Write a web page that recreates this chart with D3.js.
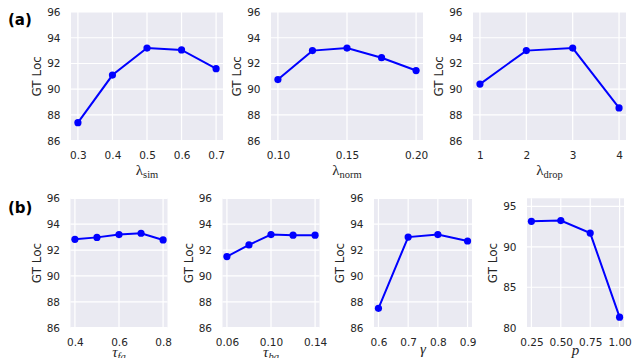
<!DOCTYPE html>
<html>
<head>
<meta charset="utf-8">
<script src="https://cdn.jsdelivr.net/npm/d3@7"></script>
<style>
  html, body { margin: 0; padding: 0; background: #ffffff; }
  svg { display: block; }
</style>
</head>
<body>
<svg id="chart" width="635" height="358"></svg>
<script>
// ---- data ----
const xSim = [0.3, 0.4, 0.5, 0.6, 0.7];
const locSim = [87.4, 91.1, 93.2, 93.05, 91.6];
const xNorm = [0.1, 0.125, 0.15, 0.175, 0.2];
const locNorm = [90.75, 93.0, 93.2, 92.45, 91.45];
const xDrop = [1, 2, 3, 4];
const locDrop = [90.4, 93.0, 93.2, 88.55];
const xFg = [0.4, 0.5, 0.6, 0.7, 0.8];
const locFg = [92.83, 92.98, 93.2, 93.3, 92.78];
const xBg = [0.06, 0.08, 0.10, 0.12, 0.14];
const locBg = [91.5, 92.4, 93.2, 93.15, 93.15];
const xGamma = [0.6, 0.7, 0.8, 0.9];
const locGamma = [87.5, 93.0, 93.2, 92.7];
const xP = [0.25, 0.5, 0.75, 1.0];
const locP = [93.15, 93.24, 91.7, 81.3];

// ---- tick labels ----
const ticksSim = ["0.3", "0.4", "0.5", "0.6", "0.7"];
const ticksNorm = ["0.10", "0.15", "0.20"];
const ticksDrop = ["1", "2", "3", "4"];
const ticksFg = ["0.4", "0.6", "0.8"];
const ticksBg = ["0.06", "0.10", "0.14"];
const ticksGamma = ["0.6", "0.7", "0.8", "0.9"];
const ticksP = ["0.25", "0.50", "0.75", "1.00"];
const yTicksLoc = ["86", "88", "90", "92", "94", "96"];
const yTicksP = ["80", "85", "90", "95"];
const yLabel = "GT Loc";

// ---- layout ----
const panels = [
  { x: xSim, y: locSim, xt: ticksSim, yt: yTicksLoc, ydom: [86, 96], box: [71, 12, 223, 140.7],
    label: { main: "λ", sub: "sim", italic: false, base: 175 }, ylx: 37 },
  { x: xNorm, y: locNorm, xt: ticksNorm, yt: yTicksLoc, ydom: [86, 96], box: [271, 12, 423, 140.7],
    label: { main: "λ", sub: "norm", italic: false, base: 175 }, ylx: 237 },
  { x: xDrop, y: locDrop, xt: ticksDrop, yt: yTicksLoc, ydom: [86, 96], box: [473, 12, 626, 140.7],
    label: { main: "λ", sub: "drop", italic: false, base: 175 }, ylx: 438.5 },
  { x: xFg, y: locFg, xt: ticksFg, yt: yTicksLoc, ydom: [86, 96], box: [70.5, 198.3, 167.5, 327.7],
    label: { main: "τ", sub: "fg", italic: true, base: 357 }, ylx: 37 },
  { x: xBg, y: locBg, xt: ticksBg, yt: yTicksLoc, ydom: [86, 96], box: [222.5, 198.3, 319.5, 327.7],
    label: { main: "τ", sub: "bg", italic: true, base: 357 }, ylx: 189 },
  { x: xGamma, y: locGamma, xt: ticksGamma, yt: yTicksLoc, ydom: [86, 96], box: [374, 198.3, 472, 327.7],
    label: { main: "γ", sub: "", italic: true, base: 354 }, ylx: 340 },
  { x: xP, y: locP, xt: ticksP, yt: yTicksP, ydom: [80, 96], box: [527, 198.3, 624, 327.7],
    label: { main: "p", sub: "", italic: true, base: 354.5 }, ylx: 493 }
];

const svg = d3.select("#chart");
const textColor = "#262626";
const tickFont = "DejaVu Sans, sans-serif";

panels.forEach(p => {
  const [x0, y0, x1, y1] = p.box;
  const [mn, mx] = d3.extent(p.x);
  const pad = (mx - mn) * 0.05;
  const xs = d3.scaleLinear().domain([mn - pad, mx + pad]).range([x0, x1]);
  const ys = d3.scaleLinear().domain(p.ydom).range([y1, y0]);
  const xv = p.xt.map(Number), yv = p.yt.map(Number);

  const g = svg.append("g");
  g.append("rect").attr("x", x0).attr("y", y0).attr("width", x1 - x0).attr("height", y1 - y0)
    .attr("fill", "#EAEAF2");

  // grid
  g.selectAll(".gx").data(xv).enter().append("line")
    .attr("x1", d => xs(d)).attr("x2", d => xs(d)).attr("y1", y0).attr("y2", y1)
    .attr("stroke", "#ffffff").attr("stroke-width", 1.2);
  g.selectAll(".gy").data(yv).enter().append("line")
    .attr("x1", x0).attr("x2", x1).attr("y1", d => ys(d)).attr("y2", d => ys(d))
    .attr("stroke", "#ffffff").attr("stroke-width", 1.2);

  // axes
  const ax = g.append("g").attr("transform", `translate(0,${y1})`)
    .call(d3.axisBottom(xs).tickValues(xv).tickFormat((d, i) => p.xt[i]).tickSize(0).tickPadding(10.5));
  const ay = g.append("g").attr("transform", `translate(${x0},0)`)
    .call(d3.axisLeft(ys).tickValues(yv).tickFormat((d, i) => p.yt[i]).tickSize(0).tickPadding(10.5));
  [ax, ay].forEach(a => {
    a.select(".domain").remove();
    a.selectAll("text").attr("font-family", tickFont).attr("font-size", 10.5).attr("fill", textColor);
  });

  // line + markers
  const pts = p.x.map((v, i) => [v, p.y[i]]);
  g.append("path").datum(pts)
    .attr("d", d3.line().x(d => xs(d[0])).y(d => ys(d[1])))
    .attr("fill", "none").attr("stroke", "#0000FF").attr("stroke-width", 2);
  g.selectAll(".dot").data(pts).enter().append("circle")
    .attr("cx", d => xs(d[0])).attr("cy", d => ys(d[1])).attr("r", 3.6).attr("fill", "#0000FF");

  // y label
  const cy = (y0 + y1) / 2;
  g.append("text").attr("transform", `translate(${p.ylx + 4},${cy}) rotate(-90)`)
    .attr("text-anchor", "middle").attr("font-family", tickFont).attr("font-size", 12)
    .attr("fill", textColor).text(yLabel);

  // x label
  const t = g.append("text").attr("x", (x0 + x1) / 2).attr("y", p.label.base)
    .attr("text-anchor", "middle").attr("font-family", "Liberation Serif, DejaVu Serif, serif")
    .attr("fill", textColor).attr("font-size", 15);
  t.append("tspan").attr("font-style", p.label.italic ? "italic" : "normal").text(p.label.main);
  if (p.label.sub) {
    t.append("tspan").attr("font-size", 10.5).attr("dy", 3)
      .attr("font-style", p.label.italic ? "italic" : "normal").text(p.label.sub);
  }
});

// panel tags
svg.append("text").attr("x", 8).attr("y", 25).attr("font-family", tickFont)
  .attr("font-weight", "bold").attr("font-size", 15).attr("fill", "#000").text("(a)");
svg.append("text").attr("x", 8).attr("y", 212.5).attr("font-family", tickFont)
  .attr("font-weight", "bold").attr("font-size", 15).attr("fill", "#000").text("(b)");
</script>
</body>
</html>
